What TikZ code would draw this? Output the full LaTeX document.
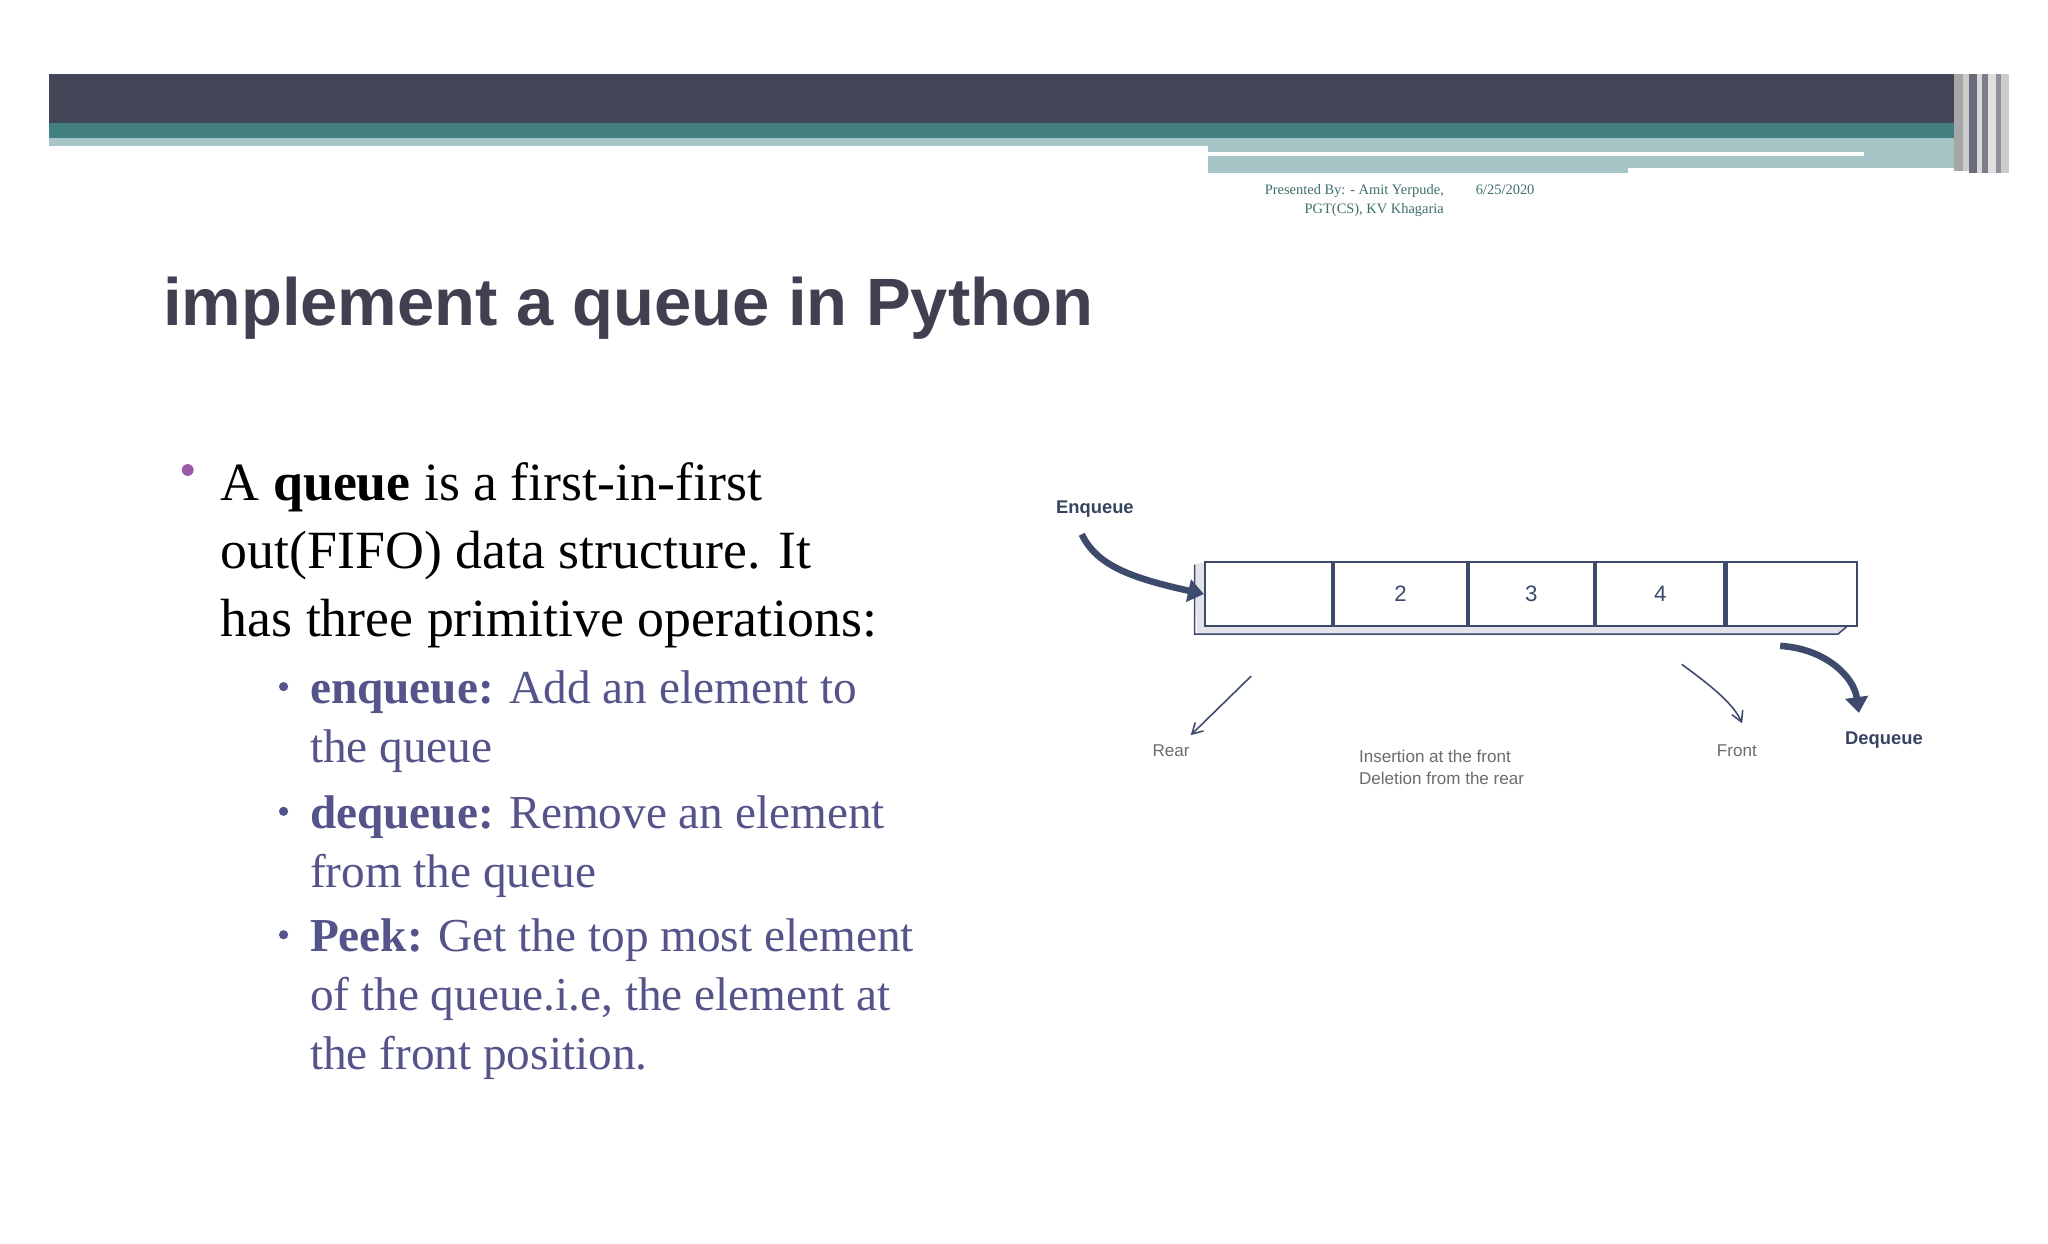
\documentclass[tikz,border=0pt]{standalone}
\usepackage{fontspec}
\setmainfont{Liberation Serif}
\setsansfont{Liberation Sans}
\usetikzlibrary{arrows.meta}
\definecolor{dark}{HTML}{434656}
\definecolor{teal1}{HTML}{417F81}
\definecolor{light}{HTML}{A7C5C6}
\definecolor{hdtext}{HTML}{3E6F6A}
\definecolor{titlec}{HTML}{404050}
\definecolor{subc}{HTML}{54548A}
\definecolor{navy}{HTML}{3D4A6B}
\definecolor{bul}{HTML}{9A5AA8}
\begin{document}
\begin{tikzpicture}[x=1pt,y=-1pt,
  hd/.style={font=\fontsize{11}{12}\selectfont, text=hdtext, inner sep=0},
  mainline/.style={anchor=base west, inner sep=0, font=\fontsize{41}{48}\selectfont},
  subline/.style={anchor=base west, inner sep=0, text=subc, font=\fontsize{36}{42}\selectfont},
  lbl/.style={inner sep=0, text=gray!85!black, font=\sffamily\fontsize{13}{16}\selectfont},
  blbl/.style={inner sep=0, text=navy!90!black, font=\sffamily\bfseries\fontsize{14}{16}\selectfont},
  cell/.style={draw=navy, line width=1.6pt, minimum width=98pt, minimum height=49pt, anchor=west, inner sep=0, text=navy, font=\sffamily\fontsize{17}{18}\selectfont},
  thick arrow/.style={draw=navy, line width=5pt, -{Triangle[length=12pt,width=17pt]}},
  thin arrow/.style={draw=navy, line width=1.2pt, -{Straight Barb[length=8pt,width=9pt]}}]
\useasboundingbox (0,0) rectangle (1560,947);
\fill[white] (0,0) rectangle (1560,947);
% header
\fill[dark] (37,56) rectangle (1488,94);
\fill[teal1] (37,94) rectangle (1530,105);
\fill[light] (37,105) rectangle (920,111);
\fill[light] (920,105) rectangle (1530,128);
\fill[light] (920,128) rectangle (1240,132);
\fill[white] (920,116) rectangle (1420,119);
\fill[gray!70] (1488,56) rectangle (1495,130);
\fill[gray!40] (1495,56) rectangle (1500,130);
\fill[dark!80] (1500,56) rectangle (1506,132);
\fill[gray!30] (1506,56) rectangle (1510,132);
\fill[dark!70] (1510,56) rectangle (1514,132);
\fill[gray!25] (1514,56) rectangle (1520,132);
\fill[dark!60] (1520,56) rectangle (1524,132);
\fill[gray!40] (1524,56) rectangle (1530,132);
\node[hd, anchor=base east] (p1) at (1100,148) {Presented By: - Amit Yerpude,};
\node[hd, anchor=base east] (p2) at (1100,163) {PGT(CS), KV Khagaria};
\node[hd, anchor=base west] (dt) at (1124,148) {6/25/2020};
% title
\node[anchor=base west, inner sep=0, text=titlec, font=\sffamily\bfseries\fontsize{51}{56}\selectfont] (title) at (124,248) {implement a queue in Python};
% body
\fill[bul] (143,358) circle (4.5pt);
\node[mainline] (m1) at (168,381) {A \textbf{queue} is a first-in-first};
\node[mainline] (m2) at (168,433) {out(FIFO) data structure. It};
\node[mainline] (m3) at (168,485) {has three primitive operations:};
\foreach \y in {523,618,712} \fill[subc] (216,\y) circle (3.5pt);
\node[subline] (s1) at (236,536) {\textbf{enqueue:} Add an element to};
\node[subline] (s2) at (236,581) {the queue};
\node[subline] (s3) at (236,631) {\textbf{dequeue:} Remove an element};
\node[subline] (s4) at (236,676) {from the queue};
\node[subline] (s5) at (236,725) {\textbf{Peek:} Get the top most element};
\node[subline] (s6) at (236,770) {of the queue.i.e, the element at};
\node[subline] (s7) at (236,815) {the front position.};
% queue diagram
\fill[navy!15] (910,430) -- (918,428) -- (918,477) -- (1407,477) -- (1400,483) -- (912,483) -- cycle;
\draw[navy, line width=1.2pt] (910,430) -- (910,483) -- (1400,483) -- (1407,477);
\node[cell, minimum width=97pt] (c1) at (917,452.5) {};
\node[cell, minimum width=101pt] (c2) at (c1.east) {2};
\node[cell, minimum width=95pt] (c3) at (c2.east) {3};
\node[cell, minimum width=98pt] (c4) at (c3.east) {4};
\node[cell, minimum width=99pt] (c5) at (c4.east) {};
\node[blbl] (enq) at (834,388) {Enqueue};
\node[blbl] (deq) at (1435,564) {Dequeue};
\node[lbl] (rear) at (892,572) {Rear};
\node[lbl] (front) at (1323,572) {Front};
\node[lbl, anchor=north west, align=left, font=\sffamily\fontsize{13}{17}\selectfont] (ins) at (1035,571) {Insertion at the front\\Deletion from the rear};
\coordinate (e0) at (824,407);
\coordinate (d0) at (1356,492);
\coordinate (r0) at (953,515);
\coordinate (f0) at (1281,506);
\draw[thick arrow] (e0) .. controls (835,430) and (860,440) .. (c1.west);
\draw[thick arrow] (d0) .. controls (1390,494) and (1412,515) .. (1416,543);
\draw[thin arrow] (r0) -- (907,560);
\draw[thin arrow] (f0) .. controls (1300,520) and (1320,535) .. (1327,551);
\end{tikzpicture}
\end{document}
